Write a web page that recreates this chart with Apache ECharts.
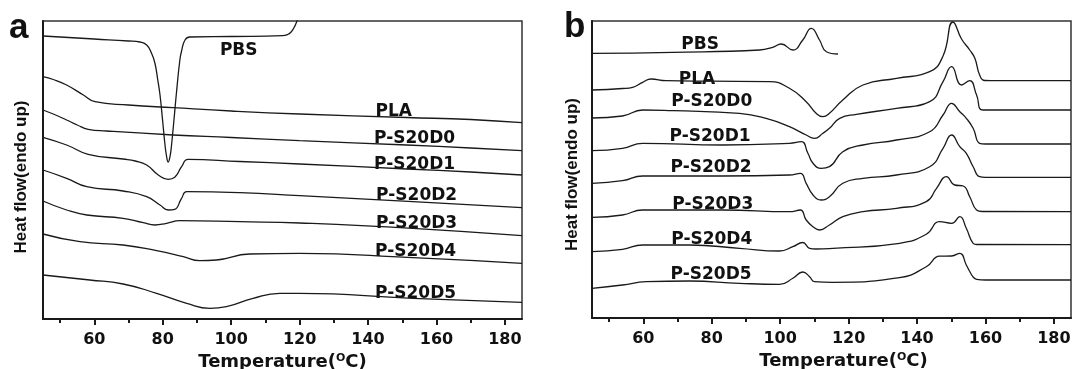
<!DOCTYPE html>
<html><head><meta charset="utf-8">
<script src="https://cdn.jsdelivr.net/npm/echarts@6/dist/echarts.min.js"></script>
<style>html,body{margin:0;padding:0;background:#fff}#c{width:1073px;height:369px}</style>
</head><body><div id="c"></div>
<script>
// ---- data (Temperature °C, heat flow in arbitrary offset units) ----
const curveNames = ['PBS','PLA','P-S20D0','P-S20D1','P-S20D2','P-S20D3','P-S20D4','P-S20D5'];
const majorTicks = [60,80,100,120,140,160,180];
const minorTicks = [50,70,90,110,130,150,170];

// panel a (cooling)
const a_PBS = [[45,283],[60,280],[70,278],[73.3,277],[75.3,274],[76.7,266],[77.7,256],[78.5,240],[79.2,224],[80.0,197],[80.6,176],[81.1,163],[81.6,157],[82.1,162],[82.6,175],[83.3,200],[84.0,226],[85.0,259],[85.5,268],[86.5,279],[87.9,282],[100,282.5],[115,283.3],[116.5,284.5],[117.5,287],[118.3,291],[119,296],[119.3,299]];
const a_PLA = [[45,242.3],[48,239.5],[51.9,234],[56.8,224],[60.2,217.3],[70,214],[83,211.3],[100,208],[120,205],[151.3,201.5],[170,199.5],[185,196.3]];
const a_D0 = [[45,209],[48,205],[51.9,199],[55,194],[58.2,189.7],[63.6,188],[83,184],[100,181.5],[120,178.3],[151.3,174],[170,171],[185,168.3]];
const a_D1 = [[45,181.7],[51.9,174],[58.2,164.7],[68.4,160],[72,158],[75.3,154],[78.7,144],[81.6,139.7],[83.5,141.7],[85.5,152.3],[87.4,159.7],[102.5,157.5],[120,155],[151.3,150],[170,147],[185,144]];
const a_D2 = [[45,149],[51.9,140.7],[57.8,132.3],[68.4,128],[75.3,122.3],[79.2,114],[81.6,109],[83.5,109.7],[85.5,120.7],[87,127.3],[102.5,126.3],[120,123.3],[153.1,117.3],[185,111.3]];
const a_D3 = [[45,118],[51.9,109],[57.8,104],[68.4,100.7],[74.3,96.3],[77.7,94],[81.1,95.7],[85,98.3],[102.5,97.3],[120,96],[153.1,90.7],[185,83.3]];
const a_D4 = [[45,85],[55.8,77.3],[68.4,74],[78.2,68.3],[86,62.3],[90.8,58.3],[95.7,59],[105.4,65],[120,65.7],[153.1,61.3],[185,55.7]];
const a_D5 = [[45,44],[58.7,39],[68.4,35],[78.2,25.7],[87,15.7],[93.8,10.7],[98.6,12.3],[106.4,20.7],[114.2,25.7],[120,25.7],[153.1,20.7],[185,16.7]];

// panel b (heating)
const b_PBS = [[45,264.7],[68.6,265.7],[94,268],[97.8,270.7],[100.3,274],[103.7,268],[106.6,278],[109.1,289.7],[111.5,278],[113.5,266.3],[116.9,264]];
const b_PLA = [[45,228],[53.9,229.5],[56.9,230.7],[59.8,235.7],[62.3,239],[66.6,237.3],[80,236.8],[96.9,236.3],[102.7,229.7],[107.6,216.3],[110.5,204.7],[112.5,201.3],[114.4,204.7],[118.3,218],[124.2,233],[134,239.7],[143.7,246.3],[147.6,262],[150.5,296],[153,279],[155.4,268],[156.9,259.7],[158.3,243],[159.8,237.5],[185,237.3]];
const b_D0 = [[45,200],[53.9,202],[59.8,208],[68.6,207.3],[88.1,204.7],[95.9,199.7],[102.7,191.3],[107.6,183],[110,179.7],[112.5,184.7],[114.4,189.7],[117.4,199.7],[122.3,203.7],[134,209.7],[143.7,216.3],[147.6,236.3],[150.1,251.3],[153,233],[155.4,237.3],[157.4,223],[159.3,208],[185,208]];
const b_D1 = [[45,167.3],[53.9,169.7],[59.8,174.7],[83.2,173],[102.7,174.7],[106.2,176.3],[108.1,164.7],[109.6,154.7],[112,149.7],[114.4,151.3],[118.3,166.3],[124.2,173],[134,178],[143.7,186.3],[147.6,203],[150.1,214.7],[152.5,206.3],[154.4,199.7],[156.4,189.7],[158.3,174.7],[160,174],[185,174]];
const b_D2 = [[45,134.7],[53.9,137.3],[59.8,142],[83.2,142],[102.7,143],[105.9,144.7],[107.6,134.7],[109.6,123],[112,118],[114.4,121.3],[118.3,134.7],[124.2,139.7],[134,143],[143.7,151.3],[147.6,169.7],[150.1,183],[152.5,171.3],[154.4,164.7],[156.4,151.3],[158.3,141.3],[160,140.7],[185,140.7]];
const b_D3 = [[45,100.7],[53.9,103],[59.8,108],[83.2,108],[102.7,106.3],[105.9,108],[107.6,98],[109.6,91.3],[111.5,88],[114.4,93],[118.3,101.3],[124.2,106.3],[134,109.7],[142.7,116.3],[145.7,129.7],[148.6,141.3],[151,133],[153.5,132],[155.4,121.3],[157.4,108],[159,106.5],[185,106.3]];
const b_D4 = [[45,66.3],[53.9,68.7],[59.8,73],[73.5,73],[88.1,69.7],[99.8,67],[103.7,71.3],[106.6,75.5],[108.6,69.7],[110.5,69],[115.4,69.7],[134.9,74.7],[142.7,83.7],[146.6,96.3],[150.1,94.7],[152.5,101.3],[154.4,89.7],[156.4,74.7],[157.5,73.5],[185,73.3]];
const b_D5 = [[45,29.7],[53.9,33],[60.8,36.3],[73.5,37],[88.1,34.7],[99.8,33.7],[103.7,39.7],[106.6,46],[108.6,41.3],[110,36.3],[115.4,35.7],[134.9,40.3],[142.7,51.3],[146.6,61.8],[150.1,62],[152.5,64.7],[154.4,53],[155.4,46.5],[156.4,41],[157.4,38.7],[160,38],[185,38]];

// curve label anchor points (data coordinates)
const a_labelPos = [[102.2,268],[147.5,207.5],[153.6,180.5],[153.6,154.5],[154.2,123.5],[154.2,95.5],[153.9,67.5],[153.9,25.5]];
const b_labelPos = [[76.6,273.5],[75.7,238.5],[80.0,216.8],[79.5,181.8],[79.8,150.2],[80.3,113.5],[80.0,78.5],[79.8,43.5]];

// ---- chart ----
const aData = [a_PBS,a_PLA,a_D0,a_D1,a_D2,a_D3,a_D4,a_D5];
const bData = [b_PBS,b_PLA,b_D0,b_D1,b_D2,b_D3,b_D4,b_D5];
const LINE = '#1a1a1a';
const numFont = 'DejaVu Sans';

function mainX(grid, padLeft) {
  return {
    type: 'value', gridIndex: grid, min: 45, max: 185, position: 'bottom',
    axisLine: { show: true, lineStyle: { color: '#1a1a1a', width: 2 } },
    axisTick: { show: true, customValues: majorTicks, length: 6, lineStyle: { color: '#1a1a1a', width: 2 } },
    axisLabel: { show: true, customValues: majorTicks, margin: 13, color: '#111', fontFamily: numFont, fontWeight: 'bold', fontSize: 16 },
    splitLine: { show: false },
    name: 'Temperature({sup|O}C)', nameLocation: 'middle', nameGap: 33,
    nameTextStyle: {
      color: '#111', fontFamily: numFont, fontWeight: 'bold', fontSize: 18, padding: [0,0,0,padLeft],
      rich: { sup: { fontFamily: numFont, fontWeight: 'bold', fontSize: 11, verticalAlign: 'top', color: '#111' } }
    }
  };
}
function minorX(grid) {
  return {
    type: 'value', gridIndex: grid, min: 45, max: 185, position: 'bottom',
    axisLine: { show: false },
    axisTick: { show: true, customValues: minorTicks, length: 4, lineStyle: { color: '#1a1a1a', width: 2 } },
    axisLabel: { show: false }, splitLine: { show: false }
  };
}
function yAx(grid, max, gap, padR) {
  return {
    type: 'value', gridIndex: grid, min: 0, max: max,
    axisLine: { show: true, lineStyle: { color: '#1a1a1a', width: 2 } },
    axisTick: { show: false }, axisLabel: { show: false }, splitLine: { show: false },
    name: 'Heat flow(endo up)', nameLocation: 'middle', nameGap: gap,
    nameTextStyle: { color: '#111', fontFamily: 'Liberation Sans', fontWeight: 'bold', fontSize: 17, padding: [0, padR, 0, 0] }
  };
}

const series = [];
aData.forEach((d) => series.push({
  type: 'line', xAxisIndex: 0, yAxisIndex: 0, data: d, showSymbol: false, symbol: 'none',
  smooth: 0.5, lineStyle: { color: LINE, width: 1.3 }, silent: true, clip: true
}));
bData.forEach((d) => series.push({
  type: 'line', xAxisIndex: 2, yAxisIndex: 1, data: d, showSymbol: false, symbol: 'none',
  smooth: 0.5, lineStyle: { color: LINE, width: 1.3 }, silent: true, clip: true
}));
function labelSeries(xi, yi, pos) {
  return {
    type: 'scatter', xAxisIndex: xi, yAxisIndex: yi, symbolSize: 0, silent: true,
    itemStyle: { opacity: 1 },
    data: pos.map((p, i) => ({ value: p, name: curveNames[i] })),
    label: { show: true, position: 'inside', formatter: p => p.name, color: '#111', opacity: 1,
      textBorderWidth: 0, fontFamily: numFont, fontWeight: 'bold', fontSize: 17 }
  };
}
series.push(labelSeries(0, 0, a_labelPos));
series.push(labelSeries(2, 1, b_labelPos));

const chart = echarts.init(document.getElementById('c'), null, { renderer: 'canvas' });
chart.setOption({
  animation: false,
  backgroundColor: '#fff',
  grid: [
    { left: 43, top: 21, width: 479, height: 298, show: true, borderColor: '#333', borderWidth: 1.5, backgroundColor: 'transparent', containLabel: false, outerBoundsMode: 'none' },
    { left: 592, top: 21, width: 479, height: 297, show: true, borderColor: '#333', borderWidth: 1.5, backgroundColor: 'transparent', containLabel: false, outerBoundsMode: 'none' }
  ],
  xAxis: [mainX(0, 0), minorX(0), mainX(1, 24), minorX(1)],
  yAxis: [yAx(0, 298, 13, 14), yAx(1, 297, 11, 10)],
  graphic: [
    { type: 'text', left: 9, top: 11, style: { text: 'a', font: 'bold 35px "Liberation Sans"', fill: '#111' } },
    { type: 'text', left: 564, top: 10, style: { text: 'b', font: 'bold 35px "Liberation Sans"', fill: '#111' } }
  ],
  series: series
});
</script>
</body></html>
